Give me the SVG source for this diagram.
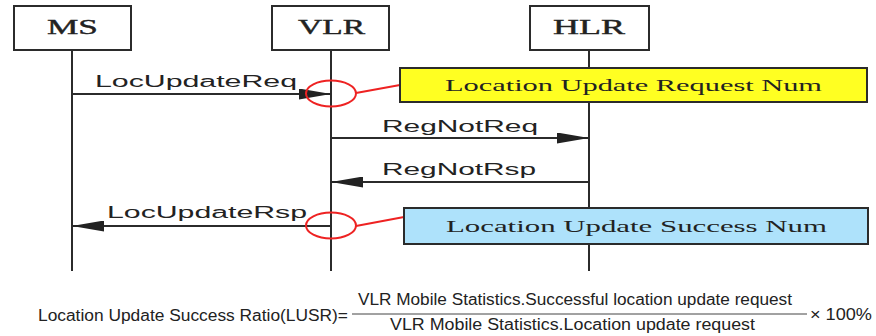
<svg xmlns="http://www.w3.org/2000/svg" width="876" height="336" viewBox="0 0 876 336">
<style>
.box{fill:#fff;stroke:#2b2b2b;stroke-width:2}
.life{stroke:#2b2b2b;stroke-width:2;fill:none}
.msg{stroke:#2b2b2b;stroke-width:2;fill:none}
.title{font-family:"Liberation Serif",serif;font-size:21px;fill:#222;stroke:#222;stroke-width:0.4}
.lbl{font-family:"Liberation Sans",sans-serif;font-size:16px;fill:#222}
.note{font-family:"Liberation Serif",serif;font-size:16px;fill:#222}
.ring{fill:none;stroke:#ee2222;stroke-width:2}
.f{font-family:"Liberation Sans",sans-serif;font-size:16px;fill:#222}
</style>
<defs>
<marker id="ah" viewBox="0 0 32 11" refX="32" refY="5.5" markerWidth="32" markerHeight="11" markerUnits="userSpaceOnUse" orient="auto">
<path d="M0,0 L32,5.5 L0,11 Z" fill="#222"/>
</marker>
</defs>
<g id="MS">
<rect class="box" x="14" y="6" width="117" height="44"/>
<text class="title" x="47" y="34" textLength="51" lengthAdjust="spacingAndGlyphs">MS</text>
<line class="life" x1="72" y1="50" x2="72" y2="271"/>
</g>
<g id="VLR">
<rect class="box" x="272" y="6" width="117" height="44"/>
<text class="title" x="298" y="34" textLength="67" lengthAdjust="spacingAndGlyphs">VLR</text>
<line class="life" x1="331" y1="50" x2="331" y2="271"/>
</g>
<g id="HLR">
<rect class="box" x="530" y="6" width="119" height="44"/>
<text class="title" x="553" y="34" textLength="72" lengthAdjust="spacingAndGlyphs">HLR</text>
<line class="life" x1="589" y1="50" x2="589" y2="271"/>
</g>
<g id="connectors">
<line class="msg" x1="72" y1="94" x2="331" y2="94" marker-end="url(#ah)"/>
<text class="lbl" x="95" y="87" textLength="202" lengthAdjust="spacingAndGlyphs">LocUpdateReq</text>
<line class="msg" x1="331" y1="138" x2="589" y2="138" marker-end="url(#ah)"/>
<text class="lbl" x="382" y="132" textLength="156" lengthAdjust="spacingAndGlyphs">RegNotReq</text>
<line class="msg" x1="589" y1="182" x2="331" y2="182" marker-end="url(#ah)"/>
<text class="lbl" x="382" y="175" textLength="154" lengthAdjust="spacingAndGlyphs">RegNotRsp</text>
<line class="msg" x1="331" y1="226" x2="72" y2="226" marker-end="url(#ah)"/>
<text class="lbl" x="107" y="218" textLength="200" lengthAdjust="spacingAndGlyphs">LocUpdateRsp</text>
<ellipse class="ring" cx="331" cy="93.5" rx="25" ry="13"/>
<line class="ring" x1="356" y1="93" x2="400" y2="85"/>
<ellipse class="ring" cx="331" cy="225.5" rx="25" ry="13"/>
<line class="ring" x1="356" y1="226" x2="404" y2="217"/>
</g>
<g id="req-num">
<rect x="400" y="68" width="467" height="34" fill="#ffff22" stroke="#2b2b2b" stroke-width="2"/>
<text class="note" x="445" y="91" textLength="377" lengthAdjust="spacingAndGlyphs">Location Update Request Num</text>
</g>
<g id="succ-num">
<rect x="404" y="208" width="464" height="36" fill="#aee2fb" stroke="#2b2b2b" stroke-width="2"/>
<text class="note" x="446" y="232" textLength="381" lengthAdjust="spacingAndGlyphs">Location Update Success Num</text>
</g>
<g id="formula">
<text class="f" x="38" y="321" textLength="310" lengthAdjust="spacingAndGlyphs">Location Update Success Ratio(LUSR)=</text>
<line x1="352" y1="314" x2="807" y2="314" stroke="#444" stroke-width="1"/>
<text class="f" x="358" y="305" textLength="434" lengthAdjust="spacingAndGlyphs">VLR Mobile Statistics.Successful location update request</text>
<text class="f" x="390" y="330" textLength="365" lengthAdjust="spacingAndGlyphs">VLR Mobile Statistics.Location update request</text>
<text class="f" x="810" y="320" textLength="62" lengthAdjust="spacingAndGlyphs">× 100%</text>
</g>
</svg>
